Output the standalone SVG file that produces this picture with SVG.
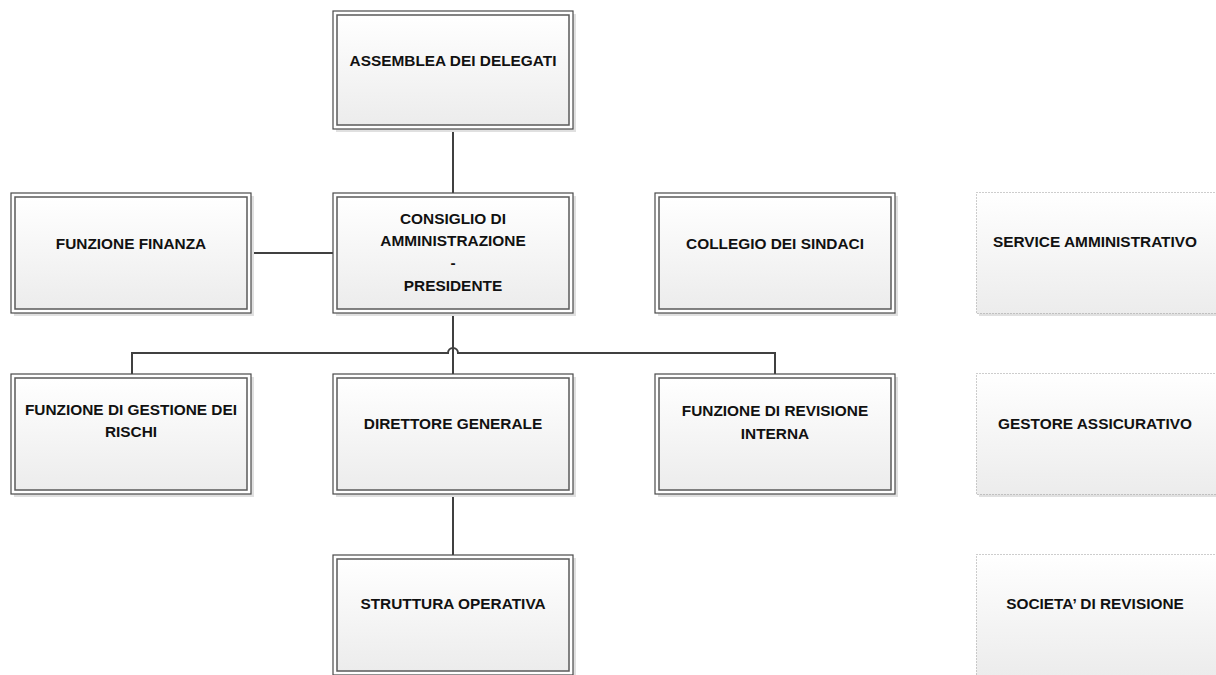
<svg xmlns="http://www.w3.org/2000/svg" width="1216" height="675" viewBox="0 0 1216 675">
<defs>
<linearGradient id="g" x1="0" y1="0" x2="0" y2="1">
<stop offset="0" stop-color="#ffffff"/>
<stop offset="1" stop-color="#ececec"/>
</linearGradient>
<style>
.sh{fill:#e0e0e0}
.outer{fill:#ffffff;stroke:#4a4a4a;stroke-width:1.2}
.inner{fill:url(#g);stroke:#5a5a5a;stroke-width:1.5}
.dot{fill:url(#g);stroke:#9a9a9a;stroke-width:1;stroke-dasharray:1 2}
.t{font-family:"Liberation Sans",Arial,sans-serif;font-weight:bold;font-size:15.4px;fill:#111;text-anchor:middle}
.c{fill:none;stroke:#404040;stroke-width:2}
</style>
</defs>
<rect width="1216" height="675" fill="#ffffff"/>
<g id="connectors">
<path class="c" d="M453 129 V193"/>
<path class="c" d="M252 253 H333"/>
<path class="c" d="M453 313 V374"/>
<path class="c" d="M132 374 V353 H448 A5 5 0 0 1 458 353 H775 V374"/>
<path class="c" d="M453 494 V555"/>
</g>
<g id="assemblea">
<rect class="sh" x="336" y="14" width="240" height="118"/>
<rect class="outer" x="333" y="11" width="240" height="118"/>
<rect class="inner" x="337" y="15" width="232" height="110"/>
<text class="t" x="453" y="66">ASSEMBLEA DEI DELEGATI</text>
</g>
<g id="finanza">
<rect class="sh" x="14" y="196" width="240" height="120"/>
<rect class="outer" x="11" y="193" width="240" height="120"/>
<rect class="inner" x="15" y="197" width="232" height="112"/>
<text class="t" x="131" y="249">FUNZIONE FINANZA</text>
</g>
<g id="consiglio">
<rect class="sh" x="336" y="196" width="240" height="120"/>
<rect class="outer" x="333" y="193" width="240" height="120"/>
<rect class="inner" x="337" y="197" width="232" height="112"/>
<text class="t" x="453" y="224">CONSIGLIO DI</text>
<text class="t" x="453" y="246">AMMINISTRAZIONE</text>
<text class="t" x="453" y="268">-</text>
<text class="t" x="453" y="291">PRESIDENTE</text>
</g>
<g id="collegio">
<rect class="sh" x="658" y="196" width="240" height="120"/>
<rect class="outer" x="655" y="193" width="240" height="120"/>
<rect class="inner" x="659" y="197" width="232" height="112"/>
<text class="t" x="775" y="249">COLLEGIO DEI SINDACI</text>
</g>
<g id="gestione-rischi">
<rect class="sh" x="14" y="377" width="240" height="120"/>
<rect class="outer" x="11" y="374" width="240" height="120"/>
<rect class="inner" x="15" y="378" width="232" height="112"/>
<text class="t" x="131" y="415">FUNZIONE DI GESTIONE DEI</text>
<text class="t" x="131" y="437">RISCHI</text>
</g>
<g id="direttore">
<rect class="sh" x="336" y="377" width="240" height="120"/>
<rect class="outer" x="333" y="374" width="240" height="120"/>
<rect class="inner" x="337" y="378" width="232" height="112"/>
<text class="t" x="453" y="429">DIRETTORE GENERALE</text>
</g>
<g id="revisione-interna">
<rect class="sh" x="658" y="377" width="240" height="120"/>
<rect class="outer" x="655" y="374" width="240" height="120"/>
<rect class="inner" x="659" y="378" width="232" height="112"/>
<text class="t" x="775" y="416">FUNZIONE DI REVISIONE</text>
<text class="t" x="775" y="439">INTERNA</text>
</g>
<g id="struttura">
<rect class="sh" x="336" y="558" width="240" height="120"/>
<rect class="outer" x="333" y="555" width="240" height="120"/>
<rect class="inner" x="337" y="559" width="232" height="112"/>
<text class="t" x="453" y="609">STRUTTURA OPERATIVA</text>
</g>
<g id="service">
<rect class="sh" x="979" y="196" width="240" height="120"/>
<rect class="dot" x="976.5" y="192.5" width="242" height="121"/>
<text class="t" x="1095" y="247">SERVICE AMMINISTRATIVO</text>
</g>
<g id="gestore">
<rect class="sh" x="979" y="377" width="240" height="120"/>
<rect class="dot" x="976.5" y="373.5" width="242" height="121"/>
<text class="t" x="1095" y="429">GESTORE ASSICURATIVO</text>
</g>
<g id="societa">
<rect class="sh" x="979" y="558" width="240" height="120"/>
<rect class="dot" x="976.5" y="554.5" width="242" height="121"/>
<text class="t" x="1095" y="609">SOCIETA’ DI REVISIONE</text>
</g>
</svg>
